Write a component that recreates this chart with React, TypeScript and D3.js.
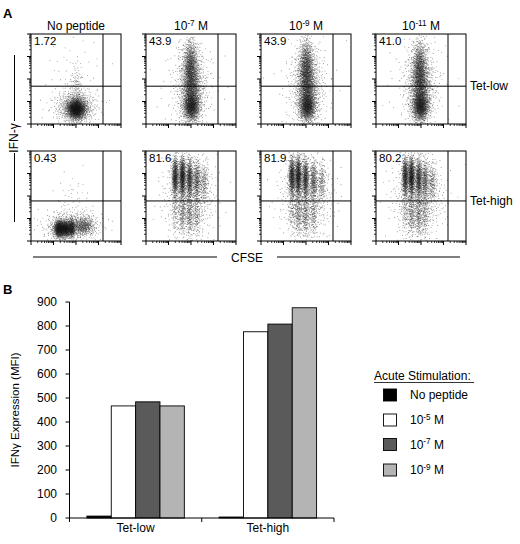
import * as d3 from 'd3';

// ---- Panel A: flow plots ----
const columnTitles = ['No peptide', '10^-7 M', '10^-9 M', '10^-11 M'];
const rowLabels = ['Tet-low', 'Tet-high'];
const gatePercents = [
  ['1.72', '43.9', '43.9', '41.0'],
  ['0.43', '81.6', '81.9', '80.2'],
];
const gateX = 0.8;
const gateY = [0.42, 0.445];

// clusters: [cx, cy, sx, sy, n] in axis fractions
const tetLowNoPep = [
  [0.5, 0.17, 0.05, 0.055, 1500],
  [0.49, 0.19, 0.11, 0.09, 700],
  [0.5, 0.42, 0.035, 0.12, 100],
  [0.48, 0.45, 0.18, 0.25, 70],
];
const tetLow7 = [
  [0.5, 0.2, 0.045, 0.08, 1100],
  [0.49, 0.63, 0.04, 0.15, 1000],
  [0.5, 0.4, 0.045, 0.12, 600],
  [0.5, 0.42, 0.09, 0.22, 750],
  [0.48, 0.45, 0.18, 0.3, 80],
];
const tetLow9 = [
  [0.51, 0.2, 0.045, 0.08, 1100],
  [0.5, 0.63, 0.04, 0.15, 1000],
  [0.51, 0.4, 0.045, 0.12, 600],
  [0.51, 0.42, 0.09, 0.22, 750],
  [0.5, 0.45, 0.18, 0.3, 80],
];
const tetLow11 = [
  [0.49, 0.2, 0.045, 0.08, 1150],
  [0.48, 0.62, 0.04, 0.15, 920],
  [0.49, 0.4, 0.045, 0.12, 600],
  [0.49, 0.42, 0.09, 0.22, 750],
  [0.47, 0.45, 0.18, 0.3, 80],
];
const tetHighNoPep = [
  [0.36, 0.14, 0.055, 0.045, 1300],
  [0.3, 0.14, 0.02, 0.05, 320],
  [0.45, 0.15, 0.02, 0.05, 270],
  [0.58, 0.17, 0.06, 0.05, 380],
  [0.45, 0.17, 0.16, 0.09, 500],
  [0.45, 0.5, 0.1, 0.15, 40],
];
const tetHigh7 = [
  [0.32, 0.72, 0.018, 0.11, 600],
  [0.4, 0.72, 0.018, 0.11, 720],
  [0.48, 0.7, 0.018, 0.11, 500],
  [0.56, 0.68, 0.02, 0.11, 290],
  [0.64, 0.66, 0.022, 0.11, 150],
  [0.32, 0.32, 0.02, 0.12, 80],
  [0.4, 0.3, 0.02, 0.12, 160],
  [0.48, 0.28, 0.02, 0.12, 170],
  [0.56, 0.28, 0.02, 0.12, 110],
  [0.48, 0.5, 0.14, 0.22, 700],
];
const tetHigh9 = [
  [0.34, 0.72, 0.018, 0.11, 600],
  [0.41, 0.72, 0.018, 0.11, 720],
  [0.49, 0.7, 0.018, 0.11, 500],
  [0.58, 0.68, 0.02, 0.11, 290],
  [0.67, 0.66, 0.022, 0.11, 150],
  [0.34, 0.32, 0.02, 0.12, 80],
  [0.41, 0.3, 0.02, 0.12, 160],
  [0.49, 0.28, 0.02, 0.12, 170],
  [0.58, 0.28, 0.02, 0.12, 110],
  [0.5, 0.5, 0.14, 0.22, 700],
];
const tetHigh11 = [
  [0.32, 0.72, 0.018, 0.11, 580],
  [0.39, 0.72, 0.018, 0.11, 730],
  [0.47, 0.7, 0.018, 0.11, 500],
  [0.54, 0.68, 0.02, 0.11, 290],
  [0.62, 0.66, 0.022, 0.11, 150],
  [0.32, 0.32, 0.02, 0.12, 80],
  [0.39, 0.3, 0.02, 0.12, 160],
  [0.47, 0.28, 0.02, 0.12, 180],
  [0.54, 0.28, 0.02, 0.12, 110],
  [0.47, 0.5, 0.14, 0.22, 710],
];
const clouds = [
  [tetLowNoPep, tetLow7, tetLow9, tetLow11],
  [tetHighNoPep, tetHigh7, tetHigh9, tetHigh11],
];

// ---- Panel B: bar chart ----
const groups = ['Tet-low', 'Tet-high'];
const stimLabels = ['No peptide', '10^-5 M', '10^-7 M', '10^-9 M'];
const noPeptide = [8, 4];
const stim1e5 = [467, 776];
const stim1e7 = [484, 808];
const stim1e9 = [467, 876];
const stimColors = ['#000000', '#ffffff', '#5a5a5a', '#b4b4b4'];
const yTicks = d3.range(0, 901, 100);

const FONT = '"Liberation Sans", Arial, sans-serif';
const LAYERS = 5;

function halton(i: number, b: number) {
  let f = 1;
  let r = 0;
  while (i > 0) {
    f /= b;
    r += f * (i % b);
    i = Math.floor(i / b);
  }
  return r;
}

// dots split over a few layers so that overlapping dots get darker
function cloudPaths(clusters: number[][], xs: d3.ScaleLinear<number, number>, ys: d3.ScaleLinear<number, number>, seed: number) {
  const d: string[] = Array(LAYERS).fill('');
  clusters.forEach(([cx, cy, wx, wy, n], k) => {
    const off = seed * 7919 + k * 1543 + 17;
    for (let i = 0; i < n; i++) {
      const u1 = halton(i + off, 2);
      const u2 = halton(i + off, 3);
      const r = Math.sqrt(-2 * Math.log(1 - u1 * 0.9999));
      const fx = cx + wx * r * Math.cos(2 * Math.PI * u2);
      const fy = cy + wy * r * Math.sin(2 * Math.PI * u2);
      if (fx < 0.01 || fx > 0.99 || fy < 0.01 || fy > 0.99) continue;
      d[i % LAYERS] += `M${xs(fx).toFixed(2)},${ys(fy).toFixed(2)}h0.9v0.9h-0.9z`;
    }
  });
  return d;
}

function Sup({ text, x, y, size, anchor }: { text: string; x: number; y: number; size: number; anchor: string }) {
  if (!text.includes('^')) {
    return <text x={x} y={y} fontSize={size} textAnchor={anchor}>{text}</text>;
  }
  const [base, rest] = text.split('^');
  const [exp, unit] = rest.split(' ');
  return (
    <text x={x} y={y} fontSize={size} textAnchor={anchor}>
      <tspan>{base}</tspan>
      <tspan dy={-4.5} fontSize={size * 0.68}>{exp}</tspan>
      <tspan dy={4.5}>{' ' + unit}</tspan>
    </text>
  );
}

function FlowPlot({ col, row, left, top, w, h }: any) {
  const xs = d3.scaleLinear().domain([0, 1]).range([left, left + w]);
  const ys = d3.scaleLinear().domain([0, 1]).range([top + h, top]);
  const major = d3.range(0, 5).map((d) => d / 4);
  const minor: number[] = [];
  for (let dec = 0; dec < 4; dec++) {
    for (let k = 2; k < 10; k++) minor.push((dec + Math.log10(k)) / 4);
  }
  const paths = cloudPaths(clouds[row][col], xs, ys, row * 4 + col + 1);
  return (
    <g>
      {paths.map((p, i) => (
        <path key={i} d={p} fill="#000" fillOpacity={0.42} />
      ))}
      <rect x={left} y={top} width={w} height={h} fill="none" stroke="#000" strokeWidth={1} />
      <line x1={xs(gateX)} x2={xs(gateX)} y1={top} y2={top + h} stroke="#000" strokeWidth={1} />
      <line x1={left} x2={left + w} y1={ys(gateY[row])} y2={ys(gateY[row])} stroke="#000" strokeWidth={1} />
      {major.map((t) => (
        <g key={'M' + t}>
          <line x1={xs(t)} x2={xs(t)} y1={top + h} y2={top + h + 4} stroke="#000" />
          <line x1={left - 4} x2={left} y1={ys(t)} y2={ys(t)} stroke="#000" />
        </g>
      ))}
      {minor.map((t) => (
        <g key={'m' + t}>
          <line x1={xs(t)} x2={xs(t)} y1={top + h} y2={top + h + 2} stroke="#000" strokeWidth={0.8} />
          <line x1={left - 2} x2={left} y1={ys(t)} y2={ys(t)} stroke="#000" strokeWidth={0.8} />
        </g>
      ))}
      <text x={left + 3} y={top + 11} fontSize={11.5}>{gatePercents[row][col]}</text>
    </g>
  );
}

export default function App() {
  // panel A layout
  const colBand = d3.scaleBand<number>().domain([0, 1, 2, 3]).range([31, 466]).paddingInner(25 / 115);
  const rowBand = d3.scaleBand<number>().domain([0, 1]).range([34, 241]).paddingInner(27 / 117);
  const pw = colBand.bandwidth();
  const ph = rowBand.bandwidth();

  // panel B layout
  const y = d3.scaleLinear().domain([0, 900]).range([518, 302]);
  const x0 = d3.scaleBand().domain(groups).range([69.5, 334]);
  const x1 = d3.scaleBand().domain(stimLabels).range([0, x0.bandwidth()]).paddingOuter(0.715);
  const series = [noPeptide, stim1e5, stim1e7, stim1e9];

  return (
    <div style={{ position: 'absolute', left: 0, top: 0 }}>
      <svg width={520} height={544} style={{ display: 'block', background: '#fff', fontFamily: FONT }}>
        <text x={3} y={18} fontSize={13} fontWeight="bold">A</text>
        {columnTitles.map((t, c) => (
          <Sup key={t} text={t} x={colBand(c)! + pw / 2} y={30} size={12} anchor="middle" />
        ))}
        {[0, 1].map((r) =>
          [0, 1, 2, 3].map((c) => (
            <FlowPlot key={r + '-' + c} row={r} col={c} left={colBand(c)!} top={rowBand(r)!} w={pw} h={ph} />
          ))
        )}
        {rowLabels.map((t, r) => (
          <text key={t} x={470} y={rowBand(r)! + ph * (1 - gateY[r]) + 4} fontSize={12}>{t}</text>
        ))}
        <line x1={14.5} x2={14.5} y1={55} y2={121} stroke="#000" />
        <line x1={14.5} x2={14.5} y1={153} y2={222} stroke="#000" />
        <text transform="translate(18,138) rotate(-90)" fontSize={12} textAnchor="middle">IFN-γ</text>
        <line x1={33} x2={217} y1={257} y2={257} stroke="#000" />
        <line x1={277} x2={460} y1={257} y2={257} stroke="#000" />
        <text x={247} y={261.5} fontSize={12} textAnchor="middle">CFSE</text>

        {/* Panel B */}
        <text x={3} y={294} fontSize={13} fontWeight="bold">B</text>
        {groups.map((g, gi) => (
          <g key={g} transform={`translate(${x0(g)},0)`}>
            {series.map((s, si) => (
              <rect
                key={si}
                x={x1(stimLabels[si])}
                y={y(s[gi])}
                width={x1.bandwidth()}
                height={y(0) - y(s[gi])}
                fill={stimColors[si]}
                stroke="#000"
                strokeWidth={0.9}
              />
            ))}
          </g>
        ))}
        <line x1={69.5} x2={69.5} y1={y(900)} y2={y(0)} stroke="#000" />
        {yTicks.map((t) => (
          <g key={t}>
            <line x1={65.5} x2={69.5} y1={y(t)} y2={y(t)} stroke="#000" />
            <text x={57} y={y(t) + 4.2} fontSize={12} textAnchor="end">{t}</text>
          </g>
        ))}
        <line x1={69.5} x2={334} y1={y(0)} y2={y(0)} stroke="#000" />
        {[...groups.map((g) => x0(g)!), 334].map((v, i) => (
          <line key={i} x1={v} x2={v} y1={y(0)} y2={y(0) + 4} stroke="#000" />
        ))}
        {groups.map((g) => (
          <text key={g} x={x0(g)! + x0.bandwidth() / 2} y={532} fontSize={12} textAnchor="middle">{g}</text>
        ))}
        <text transform={`translate(19,${(y(0) + y(900)) / 2}) rotate(-90)`} fontSize={11.5} textAnchor="middle">
          IFNγ Expression (MFI)
        </text>

        <text x={374} y={380} fontSize={12}>Acute Stimulation:</text>
        <line x1={374} x2={474} y1={382.5} y2={382.5} stroke="#000" strokeWidth={0.8} />
        {stimLabels.map((s, i) => {
          const cy = [395, 420, 444.5, 470][i];
          return (
            <g key={s}>
              <rect x={383.5} y={cy - 6} width={13} height={12} fill={stimColors[i]} stroke="#000" strokeWidth={0.9} />
              <Sup text={s} x={410} y={cy + 4} size={12} anchor="start" />
            </g>
          );
        })}
      </svg>
    </div>
  );
}
